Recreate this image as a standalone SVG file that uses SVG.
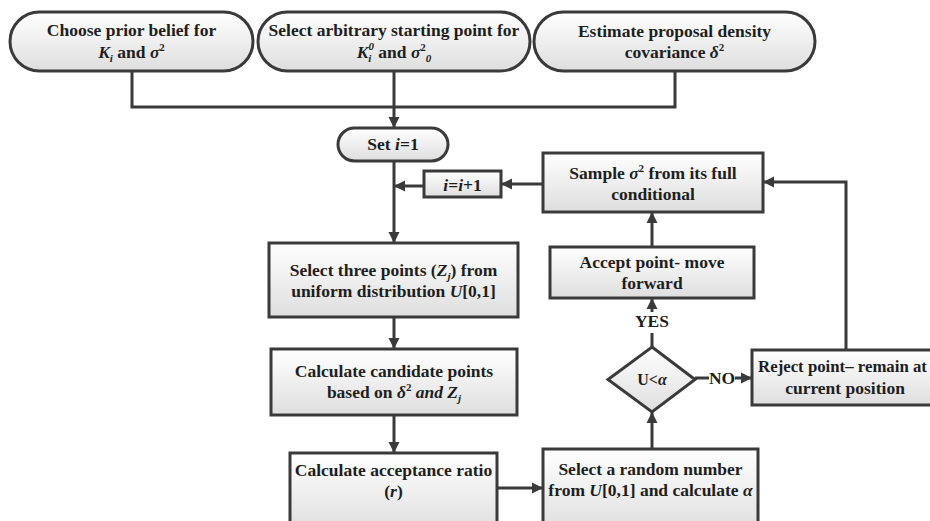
<svg xmlns="http://www.w3.org/2000/svg" width="930" height="521" viewBox="0 0 930 521">
<defs>
<linearGradient id="g" x1="0" y1="0" x2="0" y2="1">
<stop offset="0" stop-color="#ffffff"/>
<stop offset="1" stop-color="#dedede"/>
</linearGradient>
<marker id="ah" markerUnits="userSpaceOnUse" markerWidth="12" markerHeight="12" viewBox="0 0 12 12" refX="11" refY="6" orient="auto">
<path d="M0,0.5 L11,6 L0,11.5 Z" fill="#3a3a3a"/>
</marker>
<style>
.n{fill:url(#g);stroke:#3a3a3a;stroke-width:3}
.t{font-family:'Liberation Serif','Times New Roman',serif;font-weight:bold;font-size:17.5px;fill:#1e1e1e;text-anchor:middle}
.i{font-style:italic}
.s{font-size:11px}
.c{fill:none;stroke:#3a3a3a;stroke-width:3}
</style>
</defs>
<rect width="930" height="521" fill="#ffffff"/>

<g id="connectors">
<path class="c" d="M132,71 V107 H675 V71"/>
<path class="c" d="M394,71 V128" marker-end="url(#ah)"/>
<path class="c" d="M394,161 V243" marker-end="url(#ah)"/>
<path class="c" d="M424,186 H394" marker-end="url(#ah)"/>
<path class="c" d="M543,184 H501" marker-end="url(#ah)"/>
<path class="c" d="M394,317 V349" marker-end="url(#ah)"/>
<path class="c" d="M394,415 V453" marker-end="url(#ah)"/>
<path class="c" d="M497,488 H543" marker-end="url(#ah)"/>
<path class="c" d="M652,449 V412" marker-end="url(#ah)"/>
<path class="c" d="M652,347 V333"/>
<path class="c" d="M652,312 V298" marker-end="url(#ah)"/>
<path class="c" d="M652,247 V212" marker-end="url(#ah)"/>
<path class="c" d="M695,378 H709"/>
<path class="c" d="M735,378 H752" marker-end="url(#ah)"/>
<path class="c" d="M846,350 V182 H763" marker-end="url(#ah)"/>
<text class="t" x="652" y="327">YES</text>
<text class="t" x="722" y="384">NO</text>
</g>

<g id="prior">
<rect class="n" x="10" y="12" width="243" height="59" rx="29.5"/>
<text class="t" x="131.5" y="36">Choose prior belief for</text>
<text class="t" x="131.5" y="58"><tspan class="i">K</tspan><tspan class="i s" dy="4">i</tspan><tspan dy="-4"> and </tspan><tspan class="i">σ</tspan><tspan class="s" dy="-7">2</tspan></text>
</g>

<g id="start">
<rect class="n" x="258" y="12" width="272" height="59" rx="29.5"/>
<text class="t" x="394" y="36">Select arbitrary starting point for</text>
<text class="t" x="394" y="58"><tspan class="i">K</tspan><tspan class="i s" dy="4">i</tspan><tspan class="i s" dx="-3" dy="-12">0</tspan><tspan dy="8"> and </tspan><tspan class="i">σ</tspan><tspan class="s" dy="-7">2</tspan><tspan class="i s" dy="11">0</tspan></text>
</g>

<g id="proposal">
<rect class="n" x="534" y="12" width="281" height="59" rx="29.5"/>
<text class="t" x="674.5" y="37">Estimate proposal density</text>
<text class="t" x="674.5" y="58">covariance <tspan class="i">δ</tspan><tspan class="s" dy="-7">2</tspan></text>
</g>

<g id="set">
<rect class="n" x="338" y="128" width="110" height="33" rx="16.5"/>
<text class="t" x="393" y="150">Set <tspan class="i">i</tspan>=1</text>
</g>

<g id="incr">
<rect class="n" x="424" y="171" width="77" height="26"/>
<text class="t" x="462.5" y="191"><tspan class="i">i</tspan>=<tspan class="i">i</tspan>+1</text>
</g>

<g id="sample">
<rect class="n" x="543" y="153" width="220" height="59"/>
<text class="t" x="653" y="179">Sample <tspan class="i">σ</tspan><tspan class="s" dy="-7">2</tspan><tspan dy="7"> from its full</tspan></text>
<text class="t" x="653" y="200">conditional</text>
</g>

<g id="select3">
<rect class="n" x="269" y="243" width="249" height="74"/>
<text class="t" x="393.5" y="276">Select three points (<tspan class="i">Z</tspan><tspan class="i s" dy="4">j</tspan><tspan dy="-4">) from</tspan></text>
<text class="t" x="393.5" y="297">uniform distribution <tspan class="i">U</tspan>[0,1]</text>
</g>

<g id="candidate">
<rect class="n" x="271" y="349" width="246" height="66"/>
<text class="t" x="394" y="377">Calculate candidate points</text>
<text class="t" x="394" y="398">based on <tspan class="i">δ</tspan><tspan class="s" dy="-7">2</tspan><tspan class="i" dy="7"> and Z</tspan><tspan class="i s" dy="4">j</tspan></text>
</g>

<g id="ratio">
<rect class="n" x="290" y="453" width="207" height="80"/>
<text class="t" x="393.5" y="476">Calculate acceptance ratio</text>
<text class="t" x="393.5" y="497">(<tspan class="i">r</tspan>)</text>
</g>

<g id="random">
<rect class="n" x="543" y="449" width="215" height="84"/>
<text class="t" x="650.5" y="475">Select a random number</text>
<text class="t" x="650.5" y="496">from <tspan class="i">U</tspan>[0,1] and calculate <tspan class="i">α</tspan></text>
</g>

<g id="decision">
<path class="n" d="M652,347 L695,379.5 L652,412 L608,379.5 Z"/>
<text class="t" x="652" y="385" style="font-size:16px">U&lt;<tspan class="i">α</tspan></text>
</g>

<g id="accept">
<rect class="n" x="550" y="247" width="204" height="51"/>
<text class="t" x="652" y="268">Accept point- move</text>
<text class="t" x="652" y="289">forward</text>
</g>

<g id="reject">
<rect class="n" x="752" y="350" width="190" height="55"/>
<text class="t" x="842.5" y="372" style="font-size:16.8px">Reject point– remain at</text>
<text class="t" x="845" y="394">current position</text>
</g>
</svg>
